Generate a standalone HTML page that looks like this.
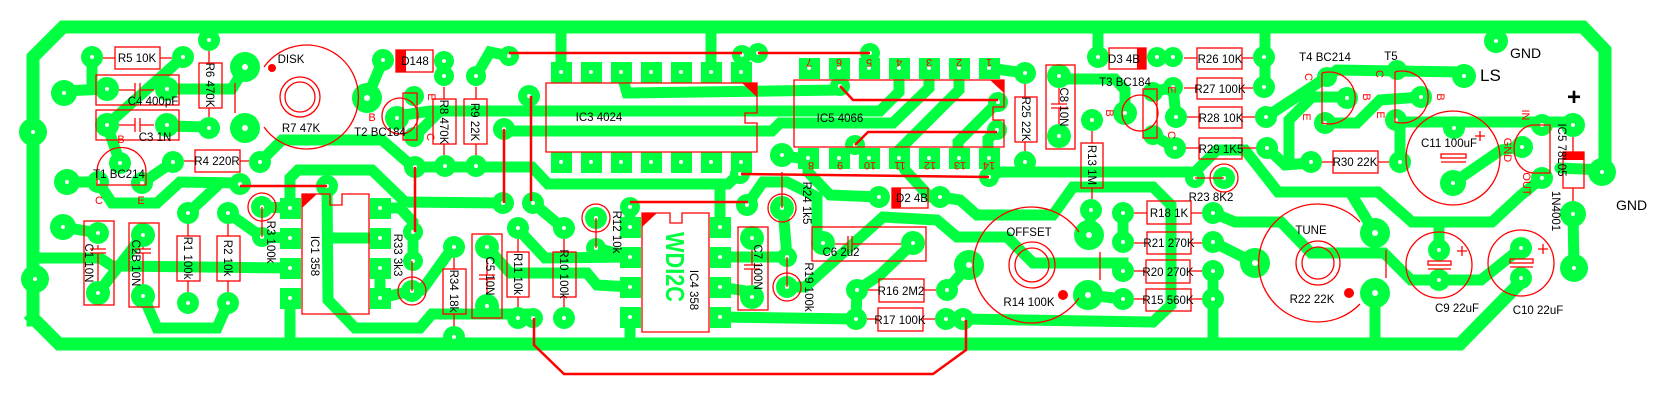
<!DOCTYPE html>
<html><head><meta charset="utf-8"><style>
html,body{margin:0;padding:0;background:#fff;}
svg{display:block;}
text{font-family:"Liberation Sans",sans-serif;}
</style></head><body>
<svg width="1654" height="413" viewBox="0 0 1654 413" xmlns="http://www.w3.org/2000/svg">
<rect width="1654" height="413" fill="#fff"/>
<g fill="none" stroke="#00ff40" stroke-linejoin="miter" stroke-linecap="square">
<polyline stroke-width="13" points="33,320 33,57 63,27 1583,27 1605,50 1605,172"/>
<polyline stroke-width="13" points="33,318 59,344 1460,344 1521,282"/>
</g>
<g fill="none" stroke="#00ff40" stroke-width="11" stroke-linejoin="miter" stroke-linecap="round">
<polyline points="209,40 209,27"/>
<polyline points="92,57 92,89"/>
<polyline points="64,91 107,89"/>
<polyline points="183,57 107,125 120,163"/>
<polyline points="167,89 232,89 245,67"/>
<polyline points="167,126 209,127"/>
<polyline points="98,182 67,182"/>
<polyline points="98,182 112,203 157,203 180,182 240,183"/>
<polyline points="188,213 217,186"/>
<polyline points="142,183 173,162"/>
<polyline points="260,162 282,140 382,140 413,167 532,167 548,184 728,184 741,172"/>
<polyline points="290,208 290,178 298,170 372,170 405,202 503,203"/>
<polyline points="327,186 328,300 355,328 420,328 432,314 533,314"/>
<polyline points="380,238 328,238"/>
<polyline points="380,208 400,208 413,222 413,262"/>
<polyline points="380,268 380,298 412,291"/>
<polyline points="63,227 98,233"/>
<polyline points="39,258 100,258 112,266 290,268"/>
<polyline points="98,293 143,235"/>
<polyline points="143,296 157,328 217,328 228,303"/>
<polyline points="228,213 262,237"/>
<polyline points="262,207 290,208"/>
<polyline points="262,237 290,238"/>
<polyline points="290,298 290,340"/>
<polyline points="367,98 383,60"/>
<polyline points="444,61 444,76"/>
<polyline points="476,76 490,52 509,56"/>
<polyline points="397,116 430,111 880,111 899,92 899,68"/>
<polyline points="414,137 440,111"/>
<polyline points="504,129 512,131 772,131 780,123 893,123 929,88 929,68"/>
<polyline points="621,72 627,93 840,90"/>
<polyline points="561,72 561,27"/>
<polyline points="711,72 711,27"/>
<polyline points="741,72 742,55"/>
<polyline points="869,68 870,53"/>
<polyline points="959,68 959,90 899,150 898,158"/>
<polyline points="998,102 958,142 958,158"/>
<polyline points="997,130 988,139 988,158"/>
<polyline points="989,68 1025,73"/>
<polyline points="808,160 782,155"/>
<polyline points="808,160 808,172 830,195 879,197"/>
<polyline points="741,162 741,174"/>
<polyline points="989,177 1000,172 1190,172"/>
<polyline points="1025,162 1025,172"/>
<polyline points="720,227 720,186"/>
<polyline points="630,207 630,227"/>
<polyline points="747,205 763,182 787,182 817,197 817,235 823,243"/>
<polyline points="533,203 563,228"/>
<polyline points="453,247 422,290 412,291"/>
<polyline points="487,247 510,273 587,273 597,285 630,287"/>
<polyline points="517,228 545,258 630,257"/>
<polyline points="596,248 630,257"/>
<polyline points="630,317 630,340"/>
<polyline points="720,257 787,257 783,208"/>
<polyline points="720,287 752,292 752,297"/>
<polyline points="720,317 856,319"/>
<polyline points="857,290 856,319"/>
<polyline points="913,243 880,275 857,290"/>
<polyline points="787,287 805,287 883,217 937,220 957,237 1007,237 1033,263 1123,263 1123,271"/>
<polyline points="947,290 969,265"/>
<polyline points="940,197 960,200 977,215 1053,215 1073,187 1153,187 1171,205 1171,305 1153,322 963,319"/>
<polyline points="1091,210 1089,235"/>
<polyline points="1088,295 1123,299"/>
<polyline points="1123,213 1123,242"/>
<polyline points="1213,271 1213,344"/>
<polyline points="1213,242 1255,263"/>
<polyline points="1213,213 1235,222 1281,222 1311,253 1384,253 1411,280 1481,280 1521,248"/>
<polyline points="1195,172 1217,150 1245,150 1278,192 1378,192 1412,222 1492,222 1520,196 1542,178"/>
<polyline points="1350,192 1375,233"/>
<polyline points="1375,293 1375,344"/>
<polyline points="1439,250 1439,222"/>
<polyline points="1573,214 1574,268"/>
<polyline points="1265,27 1265,87"/>
<polyline points="1266,117 1327,77"/>
<polyline points="1267,148 1285,165 1311,163"/>
<polyline points="1289,163 1289,120 1312,97 1347,97"/>
<polyline points="1324,123 1357,123 1380,100 1421,97"/>
<polyline points="1327,77 1337,70 1464,72"/>
<polyline points="1396,122 1573,122"/>
<polyline points="1400,122 1400,162"/>
<polyline points="1453,183 1501,150 1522,147"/>
<polyline points="1560,168 1602,170"/>
<polyline points="1098,57 1098,27"/>
<polyline points="1059,79 1115,79 1125,90 1125,113"/>
<polyline points="1153,92 1173,87 1176,117"/>
<polyline points="1153,135 1175,148"/>
<polyline points="898,158 905,170 930,197"/>
<polyline points="1496,41 1496,27"/>
</g>
<!-- round pads -->
<g fill="#00ff40">
<circle cx="209" cy="40" r="11"/><circle cx="92" cy="57" r="11"/><circle cx="183" cy="57" r="11"/><circle cx="64" cy="93" r="13"/><circle cx="107" cy="89" r="12"/><circle cx="167" cy="89" r="12"/><circle cx="245" cy="67" r="15"/><circle cx="107" cy="125" r="12"/><circle cx="167" cy="125" r="12"/><circle cx="209" cy="128" r="11"/><circle cx="245" cy="128" r="15"/><circle cx="33" cy="132" r="14"/><circle cx="367" cy="98" r="15"/><circle cx="383" cy="60" r="11"/><circle cx="120" cy="163" r="11"/><circle cx="98" cy="182" r="11"/><circle cx="142" cy="183" r="11"/><circle cx="67" cy="182" r="13"/><circle cx="173" cy="162" r="11"/><circle cx="260" cy="162" r="11"/><circle cx="240" cy="184" r="11"/><circle cx="327" cy="186" r="11"/><circle cx="188" cy="213" r="11"/><circle cx="228" cy="213" r="11"/><circle cx="262" cy="207" r="11"/><circle cx="262" cy="237" r="10"/><circle cx="63" cy="227" r="13"/><circle cx="98" cy="233" r="11"/><circle cx="98" cy="293" r="12"/><circle cx="143" cy="235" r="12"/><circle cx="143" cy="296" r="12"/><circle cx="188" cy="303" r="11"/><circle cx="228" cy="303" r="11"/><circle cx="35" cy="279" r="14"/>
<circle cx="414" cy="96" r="10"/><circle cx="414" cy="137" r="10"/><circle cx="397" cy="118" r="12"/><circle cx="444" cy="61" r="10"/><circle cx="444" cy="76" r="10"/><circle cx="476" cy="76" r="10"/><circle cx="509" cy="56" r="10"/><circle cx="415" cy="167" r="11"/><circle cx="445" cy="166" r="11"/><circle cx="476" cy="166" r="11"/><circle cx="529" cy="96" r="11"/><circle cx="504" cy="129" r="11"/><circle cx="503" cy="203" r="11"/><circle cx="533" cy="203" r="11"/><circle cx="413" cy="232" r="10"/><circle cx="413" cy="261" r="10"/><circle cx="412" cy="291" r="11"/><circle cx="454" cy="247" r="11"/><circle cx="487" cy="247" r="12"/><circle cx="518" cy="228" r="11"/><circle cx="564" cy="228" r="11"/><circle cx="487" cy="306" r="12"/><circle cx="518" cy="318" r="11"/><circle cx="533" cy="318" r="10"/><circle cx="564" cy="318" r="11"/><circle cx="454" cy="337" r="11"/><circle cx="596" cy="218" r="11"/><circle cx="596" cy="248" r="10"/><circle cx="630" cy="207" r="10"/>
<circle cx="742" cy="55" r="10"/><circle cx="758" cy="53" r="10"/><circle cx="870" cy="53" r="10"/><circle cx="740" cy="174" r="10"/><circle cx="782" cy="155" r="12"/><circle cx="782" cy="208" r="12"/><circle cx="747" cy="205" r="11"/><circle cx="752" cy="238" r="12"/><circle cx="752" cy="297" r="12"/><circle cx="787" cy="257" r="10"/><circle cx="787" cy="287" r="11"/><circle cx="823" cy="243" r="12"/><circle cx="913" cy="243" r="12"/><circle cx="840" cy="86" r="10"/><circle cx="855" cy="145" r="10"/><circle cx="998" cy="102" r="10"/><circle cx="997" cy="130" r="10"/><circle cx="989" cy="177" r="10"/><circle cx="879" cy="197" r="11"/><circle cx="940" cy="197" r="11"/>
<circle cx="857" cy="290" r="11"/><circle cx="856" cy="319" r="11"/><circle cx="947" cy="290" r="11"/><circle cx="946" cy="319" r="11"/><circle cx="963" cy="319" r="11"/><circle cx="969" cy="265" r="15"/><circle cx="1089" cy="235" r="15"/><circle cx="1088" cy="295" r="15"/><circle cx="1091" cy="210" r="11"/><circle cx="1092" cy="120" r="11"/><circle cx="1025" cy="73" r="11"/><circle cx="1025" cy="162" r="11"/><circle cx="1059" cy="76" r="12"/><circle cx="1059" cy="136" r="12"/>
<circle cx="1098" cy="57" r="11"/><circle cx="1157" cy="57" r="10"/><circle cx="1173" cy="57" r="10"/><circle cx="1264" cy="57" r="11"/><circle cx="1153" cy="92" r="10"/><circle cx="1173" cy="87" r="10"/><circle cx="1264" cy="87" r="11"/><circle cx="1125" cy="113" r="12"/><circle cx="1176" cy="117" r="11"/><circle cx="1266" cy="117" r="11"/><circle cx="1153" cy="135" r="10"/><circle cx="1175" cy="148" r="11"/><circle cx="1267" cy="148" r="11"/><circle cx="1195" cy="178" r="10"/><circle cx="1224" cy="178" r="11"/>
<circle cx="1123" cy="213" r="11"/><circle cx="1123" cy="242" r="11"/><circle cx="1123" cy="271" r="11"/><circle cx="1123" cy="299" r="11"/><circle cx="1213" cy="213" r="11"/><circle cx="1213" cy="242" r="11"/><circle cx="1213" cy="271" r="11"/><circle cx="1213" cy="299" r="11"/>
<circle cx="1255" cy="263" r="15"/><circle cx="1375" cy="233" r="15"/><circle cx="1375" cy="293" r="15"/><circle cx="1439" cy="250" r="11"/><circle cx="1439" cy="280" r="11"/><circle cx="1521" cy="248" r="11"/><circle cx="1521" cy="278" r="11"/>
<circle cx="1327" cy="77" r="10"/><circle cx="1347" cy="98" r="11"/><circle cx="1325" cy="123" r="11"/><circle cx="1397" cy="70" r="10"/><circle cx="1421" cy="97" r="11"/><circle cx="1396" cy="120" r="11"/><circle cx="1311" cy="162" r="11"/><circle cx="1400" cy="162" r="11"/><circle cx="1464" cy="76" r="12"/><circle cx="1496" cy="41" r="12"/><circle cx="1454" cy="128" r="11"/><circle cx="1453" cy="183" r="13"/><circle cx="1542" cy="125" r="11"/><circle cx="1522" cy="147" r="11"/><circle cx="1542" cy="178" r="11"/><circle cx="1573" cy="125" r="12"/><circle cx="1602" cy="172" r="14"/><circle cx="1573" cy="214" r="13"/><circle cx="1574" cy="268" r="14"/>
</g>
<!-- IC square pads -->
<g fill="#00ff40">
<rect x="280" y="198" width="21" height="21"/><rect x="280" y="228" width="21" height="21"/><rect x="280" y="258" width="21" height="21"/><rect x="280" y="288" width="21" height="21"/>
<rect x="370" y="198" width="21" height="21"/><rect x="370" y="228" width="21" height="21"/><rect x="370" y="258" width="21" height="21"/><rect x="370" y="288" width="21" height="21"/>
<rect x="551" y="62" width="21" height="21"/><rect x="581" y="62" width="21" height="21"/><rect x="611" y="62" width="21" height="21"/><rect x="641" y="62" width="21" height="21"/><rect x="671" y="62" width="21" height="21"/><rect x="701" y="62" width="21" height="21"/><rect x="731" y="62" width="21" height="21"/>
<rect x="551" y="152" width="21" height="21"/><rect x="581" y="152" width="21" height="21"/><rect x="611" y="152" width="21" height="21"/><rect x="641" y="152" width="21" height="21"/><rect x="671" y="152" width="21" height="21"/><rect x="701" y="152" width="21" height="21"/><rect x="731" y="152" width="21" height="21"/>
<rect x="799" y="58" width="21" height="21"/><rect x="829" y="58" width="21" height="21"/><rect x="859" y="58" width="21" height="21"/><rect x="889" y="58" width="21" height="21"/><rect x="919" y="58" width="21" height="21"/><rect x="949" y="58" width="21" height="21"/><rect x="979" y="58" width="21" height="21"/>
<rect x="798" y="148" width="21" height="21"/><rect x="829" y="148" width="21" height="21"/><rect x="859" y="148" width="21" height="21"/><rect x="889" y="148" width="21" height="21"/><rect x="919" y="148" width="21" height="21"/><rect x="949" y="148" width="21" height="21"/><rect x="979" y="148" width="21" height="21"/>
<rect x="620" y="217" width="21" height="21"/><rect x="620" y="247" width="21" height="21"/><rect x="620" y="277" width="21" height="21"/><rect x="620" y="307" width="21" height="21"/>
<rect x="710" y="217" width="21" height="21"/><rect x="710" y="247" width="21" height="21"/><rect x="710" y="277" width="21" height="21"/><rect x="710" y="307" width="21" height="21"/>
</g>
<!-- drill holes -->
<g fill="#fff">
<circle cx="209" cy="40" r="2"/><circle cx="92" cy="57" r="2"/><circle cx="183" cy="57" r="2"/><circle cx="64" cy="93" r="2"/><circle cx="107" cy="89" r="2"/><circle cx="167" cy="89" r="2"/><circle cx="245" cy="67" r="3"/><circle cx="107" cy="125" r="2"/><circle cx="167" cy="125" r="2"/><circle cx="209" cy="128" r="2"/><circle cx="245" cy="128" r="3"/><circle cx="33" cy="132" r="2"/><circle cx="367" cy="98" r="3"/><circle cx="383" cy="60" r="2"/><circle cx="120" cy="163" r="2"/><circle cx="98" cy="182" r="2"/><circle cx="142" cy="183" r="2"/><circle cx="67" cy="182" r="2"/><circle cx="173" cy="162" r="2"/><circle cx="260" cy="162" r="2"/><circle cx="240" cy="184" r="2"/><circle cx="327" cy="186" r="2"/><circle cx="188" cy="213" r="2"/><circle cx="228" cy="213" r="2"/><circle cx="262" cy="207" r="2"/><circle cx="262" cy="237" r="2"/><circle cx="63" cy="227" r="2"/><circle cx="98" cy="233" r="2"/><circle cx="98" cy="293" r="2"/><circle cx="143" cy="235" r="2"/><circle cx="143" cy="296" r="2"/><circle cx="188" cy="303" r="2"/><circle cx="228" cy="303" r="2"/><circle cx="35" cy="279" r="2"/>
<circle cx="397" cy="118" r="2"/><circle cx="444" cy="61" r="2"/><circle cx="444" cy="76" r="2"/><circle cx="476" cy="76" r="2"/><circle cx="509" cy="56" r="2"/><circle cx="415" cy="167" r="2"/><circle cx="445" cy="166" r="2"/><circle cx="476" cy="166" r="2"/><circle cx="529" cy="96" r="2"/><circle cx="504" cy="129" r="2"/><circle cx="503" cy="203" r="2"/><circle cx="533" cy="203" r="2"/><circle cx="413" cy="232" r="2"/><circle cx="413" cy="261" r="2"/><circle cx="412" cy="291" r="2"/><circle cx="454" cy="247" r="2"/><circle cx="487" cy="247" r="2"/><circle cx="518" cy="228" r="2"/><circle cx="564" cy="228" r="2"/><circle cx="487" cy="306" r="2"/><circle cx="518" cy="318" r="2"/><circle cx="533" cy="318" r="2"/><circle cx="564" cy="318" r="2"/><circle cx="454" cy="337" r="2"/><circle cx="596" cy="218" r="2"/><circle cx="596" cy="248" r="2"/><circle cx="630" cy="207" r="2"/>
<circle cx="742" cy="55" r="2"/><circle cx="758" cy="53" r="2"/><circle cx="870" cy="53" r="2"/><circle cx="740" cy="174" r="2"/><circle cx="782" cy="155" r="2"/><circle cx="782" cy="208" r="2"/><circle cx="747" cy="205" r="2"/><circle cx="752" cy="238" r="2"/><circle cx="752" cy="297" r="2"/><circle cx="787" cy="257" r="2"/><circle cx="787" cy="287" r="2"/><circle cx="823" cy="243" r="2"/><circle cx="913" cy="243" r="2"/><circle cx="840" cy="86" r="2"/><circle cx="855" cy="145" r="2"/><circle cx="998" cy="102" r="2"/><circle cx="997" cy="130" r="2"/><circle cx="989" cy="177" r="2"/><circle cx="879" cy="197" r="2"/><circle cx="940" cy="197" r="2"/>
<circle cx="857" cy="290" r="2"/><circle cx="856" cy="319" r="2"/><circle cx="947" cy="290" r="2"/><circle cx="946" cy="319" r="2"/><circle cx="963" cy="319" r="2"/><circle cx="969" cy="265" r="3"/><circle cx="1089" cy="235" r="3"/><circle cx="1088" cy="295" r="3"/><circle cx="1091" cy="210" r="2"/><circle cx="1092" cy="120" r="2"/><circle cx="1025" cy="73" r="2"/><circle cx="1025" cy="162" r="2"/><circle cx="1059" cy="76" r="2"/><circle cx="1059" cy="136" r="2"/>
<circle cx="1098" cy="57" r="2"/><circle cx="1157" cy="57" r="2"/><circle cx="1173" cy="57" r="2"/><circle cx="1264" cy="57" r="2"/><circle cx="1173" cy="87" r="2"/><circle cx="1264" cy="87" r="2"/><circle cx="1125" cy="113" r="2"/><circle cx="1176" cy="117" r="2"/><circle cx="1266" cy="117" r="2"/><circle cx="1175" cy="148" r="2"/><circle cx="1267" cy="148" r="2"/><circle cx="1195" cy="178" r="2"/><circle cx="1224" cy="178" r="2"/>
<circle cx="1123" cy="213" r="2"/><circle cx="1123" cy="242" r="2"/><circle cx="1123" cy="271" r="2"/><circle cx="1123" cy="299" r="2"/><circle cx="1213" cy="213" r="2"/><circle cx="1213" cy="242" r="2"/><circle cx="1213" cy="271" r="2"/><circle cx="1213" cy="299" r="2"/>
<circle cx="1255" cy="263" r="3"/><circle cx="1375" cy="233" r="3"/><circle cx="1375" cy="293" r="3"/><circle cx="1439" cy="250" r="2"/><circle cx="1439" cy="280" r="2"/><circle cx="1521" cy="248" r="2"/><circle cx="1521" cy="278" r="2"/>
<circle cx="1347" cy="98" r="2"/><circle cx="1325" cy="123" r="2"/><circle cx="1421" cy="97" r="2"/><circle cx="1396" cy="120" r="2"/><circle cx="1311" cy="162" r="2"/><circle cx="1400" cy="162" r="2"/><circle cx="1464" cy="76" r="2"/><circle cx="1496" cy="41" r="2"/><circle cx="1454" cy="128" r="2"/><circle cx="1453" cy="183" r="2"/><circle cx="1542" cy="125" r="2"/><circle cx="1522" cy="147" r="2"/><circle cx="1542" cy="178" r="2"/><circle cx="1573" cy="125" r="2"/><circle cx="1602" cy="172" r="2"/><circle cx="1573" cy="214" r="2"/><circle cx="1574" cy="268" r="2"/>
<circle cx="290" cy="208" r="2"/><circle cx="290" cy="238" r="2"/><circle cx="290" cy="268" r="2"/><circle cx="290" cy="298" r="2"/><circle cx="380" cy="208" r="2"/><circle cx="380" cy="238" r="2"/><circle cx="380" cy="268" r="2"/><circle cx="380" cy="298" r="2"/>
<circle cx="561" cy="72" r="2"/><circle cx="591" cy="72" r="2"/><circle cx="621" cy="72" r="2"/><circle cx="651" cy="72" r="2"/><circle cx="681" cy="72" r="2"/><circle cx="711" cy="72" r="2"/><circle cx="741" cy="72" r="2"/>
<circle cx="561" cy="162" r="2"/><circle cx="591" cy="162" r="2"/><circle cx="621" cy="162" r="2"/><circle cx="651" cy="162" r="2"/><circle cx="681" cy="162" r="2"/><circle cx="711" cy="162" r="2"/><circle cx="741" cy="162" r="2"/>
<circle cx="809" cy="68" r="2"/><circle cx="839" cy="68" r="2"/><circle cx="869" cy="68" r="2"/><circle cx="899" cy="68" r="2"/><circle cx="929" cy="68" r="2"/><circle cx="959" cy="68" r="2"/><circle cx="989" cy="68" r="2"/>
<circle cx="808" cy="158" r="2"/><circle cx="839" cy="158" r="2"/><circle cx="869" cy="158" r="2"/><circle cx="899" cy="158" r="2"/><circle cx="929" cy="158" r="2"/><circle cx="959" cy="158" r="2"/><circle cx="989" cy="158" r="2"/>
<circle cx="630" cy="227" r="2"/><circle cx="630" cy="257" r="2"/><circle cx="630" cy="287" r="2"/><circle cx="630" cy="317" r="2"/><circle cx="720" cy="227" r="2"/><circle cx="720" cy="257" r="2"/><circle cx="720" cy="287" r="2"/><circle cx="720" cy="317" r="2"/>
</g>
<!-- green copper text -->
<text x="0" y="0" transform="translate(666,267) rotate(90)" text-anchor="middle" font-size="26" font-weight="bold" fill="#00ff40" textLength="70" lengthAdjust="spacingAndGlyphs">WDI2C</text>

<!-- red jumpers (thick) -->
<g fill="none" stroke="#ff0000" stroke-width="2.5">
<line x1="240" y1="186" x2="327" y2="186"/>
<line x1="415" y1="167" x2="415" y2="232"/>
<line x1="504" y1="129" x2="504" y2="203"/>
<line x1="531" y1="96" x2="531" y2="201"/>
<line x1="509" y1="53" x2="742" y2="53"/>
<line x1="758" y1="53" x2="870" y2="53"/>
<line x1="741" y1="174" x2="989" y2="177"/>
<line x1="630" y1="202" x2="748" y2="202"/>
<polyline points="840,86 853,100 998,100"/>
<polyline points="855,145 868,132 997,132"/>
<polyline points="534,318 534,345 564,374 933,374 966,350 966,320"/>
</g>
<!-- red outlines -->
<g fill="none" stroke="#ff0000" stroke-width="1.3">
<!-- resistor boxes -->
<rect x="115" y="47" width="45" height="22"/>
<rect x="199" y="63" width="23" height="45"/>
<rect x="195" y="150" width="45" height="22"/>
<rect x="177" y="236" width="23" height="45"/>
<rect x="217" y="236" width="23" height="45"/>
<rect x="433" y="99" width="23" height="45"/>
<rect x="464" y="99" width="23" height="45"/>
<rect x="443" y="269" width="23" height="45"/>
<rect x="507" y="252" width="22" height="45"/>
<rect x="553" y="252" width="23" height="45"/>
<rect x="879" y="279" width="45" height="23"/>
<rect x="878" y="308" width="45" height="23"/>
<rect x="1015" y="97" width="22" height="45"/>
<rect x="1081" y="143" width="22" height="45"/>
<rect x="1197" y="48" width="45" height="21"/>
<rect x="1197" y="78" width="45" height="21"/>
<rect x="1199" y="107" width="43" height="21"/>
<rect x="1199" y="138" width="43" height="21"/>
<rect x="1333" y="151" width="45" height="22"/>
<rect x="1147" y="201" width="44" height="23"/>
<rect x="1147" y="232" width="44" height="22"/>
<rect x="1146" y="260" width="44" height="23"/>
<rect x="1146" y="289" width="45" height="22"/>
<!-- capacitor boxes -->
<rect x="96" y="75" width="83" height="30"/>
<rect x="96" y="110" width="83" height="30"/>
<rect x="84" y="221" width="30" height="84"/>
<rect x="129" y="223" width="30" height="84"/>
<rect x="472" y="234" width="30" height="84"/>
<rect x="738" y="227" width="30" height="83"/>
<rect x="812" y="227" width="114" height="34"/>
<rect x="1046" y="65" width="29" height="84"/>
<!-- diode boxes -->
<rect x="396" y="50" width="37" height="22"/>
<rect x="892" y="188" width="36" height="20"/>
<rect x="1109" y="48" width="37" height="21"/>
<rect x="1563" y="152" width="21" height="36"/>
<!-- IC bodies -->
<path d="M302,194 H330 V205 H342 V194 H369 V314 H302 Z"/>
<path d="M546,83 H757 V113 H745 V123 H757 V152 H546 Z"/>
<path d="M794,80 H1004 V107 H993 V120 H1004 V147 H794 Z"/>
<path d="M642,213 H670 V223 H682 V213 H709 V332 H642 Z"/>
<!-- resistor leads -->
<path d="M103,58H115M160,58H172M209,51V63M209,108V117M184,161H195M240,161H249M188,224V236M188,281V292M228,224V236M228,281V292M444,87V99M444,144V155M476,87V99M476,144V155M454,258V269M454,314V326M518,239V252M518,297V307M564,239V252M564,297V307M868,290H879M924,290H936M867,319H878M923,319H935M1025,84V97M1025,142V151M1092,131V143M1092,188V199M1184,58H1197M1242,58H1253M1184,88H1197M1242,88H1253M1187,117H1199M1242,117H1255M1186,148H1199M1242,148H1256M1322,162H1333M1378,162H1389M1134,213H1147M1191,213H1202M1134,243H1147M1191,243H1202M1134,271H1146M1190,271H1202M1134,299H1146M1191,299H1202M1573,137V152M1573,188V201"/>
<!-- vertical resistor symbols -->
<circle cx="262" cy="207" r="14"/><line x1="262" y1="207" x2="262" y2="237"/>
<circle cx="412" cy="291" r="14"/><line x1="412" y1="261" x2="412" y2="291"/>
<circle cx="596" cy="218" r="14"/><line x1="596" y1="218" x2="596" y2="248"/>
<circle cx="782" cy="208" r="14"/><line x1="782" y1="172" x2="782" y2="208"/>
<circle cx="787" cy="287" r="14"/><line x1="787" y1="257" x2="787" y2="287"/>
<circle cx="1224" cy="178" r="14"/><line x1="1195" y1="178" x2="1224" y2="178"/>
<!-- capacitor symbols -->
<path d="M119,90H135M135,83V97M140,83V97M140,90H154"/>
<path d="M119,125H135M135,118V132M140,118V132M140,125H154"/>
<path d="M98,245V249M90,249H106M90,253H106M98,253V281"/>
<path d="M143,247V249M135,249H151M135,253H151M143,253V284"/>
<path d="M487,259V275M479,275H495M479,279H495M487,279V294"/>
<path d="M752,250V265M744,265H760M744,269H760M752,269V285"/>
<path d="M1059,88V104M1051,104H1067M1051,108H1067M1059,108V124"/>
<path d="M835,244H848M848,236V252M852,236V252M852,244H901"/>
<!-- transistors -->
<path d="M97,185 V172 A24,24 0 0 1 146,172 V185 Z"/>
<circle cx="400" cy="116" r="18"/><rect x="403" y="93" width="14" height="47"/>
<circle cx="1140" cy="113" r="18"/><rect x="1143" y="89" width="14" height="49"/>
<path d="M1322,73 V123 A26,26 0 1 0 1322,73"/>
<path d="M1395,72 V122 A26,26 0 1 0 1395,72"/>
<!-- regulator -->
<path d="M1550,125 H1534 A20,24 0 0 0 1534,173 H1550 Z"/>
<!-- pots -->
<path d="M264,67 A52,52 0 1 1 264,127"/>
<circle cx="300" cy="97" r="20"/><circle cx="300" cy="97" r="15"/>
<line x1="235" y1="83" x2="235" y2="113"/>
<path d="M1079,232 A58,58 0 1 0 1079,298"/>
<circle cx="1032" cy="265" r="23"/><circle cx="1032" cy="265" r="17"/>
<line x1="1100" y1="252" x2="1100" y2="280"/>
<path d="M1360,222 A59,59 0 1 0 1360,304"/>
<circle cx="1318" cy="263" r="22"/><circle cx="1318" cy="263" r="16"/>
<line x1="1386" y1="250" x2="1386" y2="278"/>
<!-- electrolytics -->
<circle cx="1439" cy="265" r="33"/><rect x="1428" y="261" width="23" height="4"/><line x1="1428" y1="269" x2="1451" y2="269"/>
<circle cx="1521" cy="263" r="33"/><rect x="1510" y="259" width="23" height="4"/><line x1="1510" y1="267" x2="1533" y2="267"/>
<circle cx="1453" cy="158" r="47"/><rect x="1441" y="154" width="25" height="4"/><line x1="1441" y1="162" x2="1466" y2="162"/>
<path d="M1462,246V256M1457,251H1467M1543,244V254M1538,249H1548M1480,131V141M1475,136H1485"/>
</g>
<!-- red fills -->
<g fill="#ff0000">
<rect x="396" y="50" width="10" height="22"/>
<rect x="892" y="188" width="9" height="20"/>
<rect x="1137" y="48" width="9" height="21"/>
<rect x="1563" y="152" width="21" height="8"/>
<path d="M302,194 H317 L302,208 Z"/>
<path d="M742,83 H757 V97 Z"/>
<path d="M990,80 H1004 V93 Z"/>
<path d="M642,213 H657 L642,227 Z"/>
<circle cx="272" cy="68" r="4"/>
<circle cx="1063" cy="295" r="5"/>
<circle cx="1349" cy="293" r="5"/>
</g>
<!-- red labels -->
<g fill="#ff0000" font-size="11" text-anchor="middle">
<text x="121" y="143">B</text><text x="99" y="204">C</text><text x="141" y="204">E</text>
<text x="372" y="121">B</text>
<text transform="translate(432,97) rotate(90)" y="4">E</text>
<text transform="translate(431,137) rotate(90)" y="4">C</text>
<text transform="translate(809,63) rotate(180)" y="4">7</text>
<text transform="translate(839,63) rotate(180)" y="4">6</text>
<text transform="translate(869,63) rotate(180)" y="4">5</text>
<text transform="translate(899,63) rotate(180)" y="4">4</text>
<text transform="translate(929,63) rotate(180)" y="4">3</text>
<text transform="translate(959,63) rotate(180)" y="4">2</text>
<text transform="translate(989,63) rotate(180)" y="4">1</text>
<text transform="translate(811,166) rotate(180)" y="4">8</text>
<text transform="translate(840,166) rotate(180)" y="4">9</text>
<text transform="translate(870,166) rotate(180)" y="4">10</text>
<text transform="translate(900,166) rotate(180)" y="4">11</text>
<text transform="translate(930,166) rotate(180)" y="4">12</text>
<text transform="translate(960,166) rotate(180)" y="4">13</text>
<text transform="translate(989,166) rotate(180)" y="4">14</text>
<text transform="translate(1110,113) rotate(90)" y="4">B</text>
<text transform="translate(1172,90) rotate(90)" y="4">E</text>
<text transform="translate(1172,135) rotate(90)" y="4">C</text>
<text transform="translate(1309,77) rotate(90)" y="4">C</text>
<text transform="translate(1367,97) rotate(90)" y="4">B</text>
<text transform="translate(1307,117) rotate(90)" y="4">E</text>
<text transform="translate(1380,74) rotate(90)" y="4">C</text>
<text transform="translate(1441,97) rotate(90)" y="4">B</text>
<text transform="translate(1381,115) rotate(90)" y="4">E</text>
<text transform="translate(1526,115) rotate(90)" y="4">IN</text>
<text transform="translate(1508,150) rotate(90)" y="4">GND</text>
<text transform="translate(1527,184) rotate(90)" y="4">OUT</text>
</g>
<!-- black labels -->
<g fill="#000" font-size="11.5" text-anchor="middle">
<text x="137" y="62">R5 10K</text>
<text transform="translate(210,85) rotate(90)" y="4">R6 470K</text>
<text x="153" y="105">C4 400pF</text>
<text x="155" y="141">C3 1N</text>
<text x="291" y="63">DISK</text>
<text x="301" y="132">R7 47K</text>
<text x="380" y="136">T2 BC184</text>
<text x="119" y="178">T1 BC214</text>
<text x="217" y="165">R4 220R</text>
<text transform="translate(89,263) rotate(90)" y="4">C1 10N</text>
<text transform="translate(136,263) rotate(90)" y="4">C2B 10N</text>
<text transform="translate(188,258) rotate(90)" y="4">R1 100k</text>
<text transform="translate(228,258) rotate(90)" y="4">R2 10k</text>
<text transform="translate(271,242) rotate(90)" y="4">R3 100k</text>
<text transform="translate(315,256) rotate(90)" y="4">IC1 358</text>
<text transform="translate(398,255) rotate(90)" y="4">R33 3k3</text>
<text x="415" y="65">D148</text>
<text transform="translate(444,122) rotate(90)" y="4">R8 470K</text>
<text transform="translate(475,122) rotate(90)" y="4">R9 22K</text>
<text x="599" y="121">IC3 4024</text>
<text x="840" y="122">IC5 4066</text>
<text transform="translate(454,291) rotate(90)" y="4">R34 18k</text>
<text transform="translate(490,276) rotate(90)" y="4">C5 10N</text>
<text transform="translate(518,274) rotate(90)" y="4">R11 10k</text>
<text transform="translate(564,274) rotate(90)" y="4">R10 100k</text>
<text transform="translate(617,232) rotate(90)" y="4">R12 10k</text>
<text transform="translate(694,290) rotate(90)" y="4">IC4 358</text>
<text transform="translate(758,267) rotate(90)" y="4">C7 100N</text>
<text transform="translate(807,203) rotate(90)" y="4">R24 1k5</text>
<text transform="translate(809,287) rotate(90)" y="4">R19 100k</text>
<text x="841" y="256">C6 2u2</text>
<text x="912" y="202">D2 4B</text>
<text x="901" y="295">R16 2M2</text>
<text x="900" y="324">R17 100K</text>
<text x="1029" y="236">OFFSET</text>
<text x="1029" y="306">R14 100K</text>
<text transform="translate(1026,119) rotate(90)" y="4">R25 22K</text>
<text transform="translate(1064,107) rotate(90)" y="4">C8 10N</text>
<text transform="translate(1092,165) rotate(90)" y="4">R13 1M</text>
<text x="1124" y="63">D3 4B</text>
<text x="1125" y="86">T3 BC184</text>
<text x="1220" y="63">R26 10K</text>
<text x="1220" y="93">R27 100K</text>
<text x="1221" y="122">R28 10K</text>
<text x="1221" y="153">R29 1K5</text>
<text x="1211" y="201">R23 8K2</text>
<text x="1169" y="217">R18 1K</text>
<text x="1169" y="247">R21 270K</text>
<text x="1168" y="276">R20 270K</text>
<text x="1168" y="304">R15 560K</text>
<text x="1311" y="234">TUNE</text>
<text x="1312" y="303">R22 22K</text>
<text x="1457" y="312">C9 22uF</text>
<text x="1538" y="314">C10 22uF</text>
<text x="1449" y="147">C11 100uF</text>
<text x="1355" y="166">R30 22K</text>
<text x="1325" y="61">T4 BC214</text>
<text x="1391" y="60">T5</text>
<text transform="translate(1562,150) rotate(90)" y="4">IC5 78L05</text>
<text transform="translate(1556,211) rotate(90)" y="4">1N4001</text>
</g>
<g fill="#000" text-anchor="start">
<text x="1480" y="81" font-size="17">LS</text>
<text x="1510" y="58" font-size="14">GND</text>
<text x="1616" y="210" font-size="14">GND</text>
<text x="1574" y="105" font-size="24" font-weight="bold" text-anchor="middle">+</text>
</g>
</svg>
</body></html>
